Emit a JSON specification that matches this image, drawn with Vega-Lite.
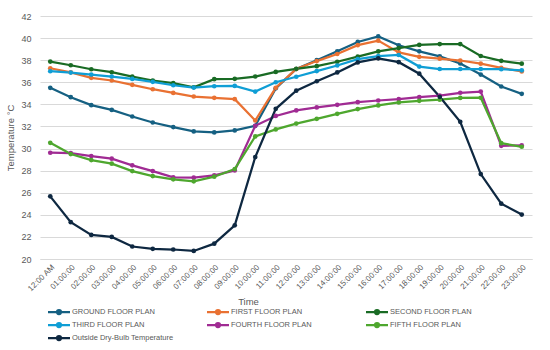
{
  "$schema": "https://vega.github.io/schema/vega-lite/v6.json",
  "width": 492,
  "height": 243,
  "autosize": {"type": "none"},
  "padding": {"left": 40, "top": 16, "right": 18, "bottom": 91},
  "background": "white",
  "config": {"view": {"stroke": null}, "font": "Liberation Sans"},
  "datasets": {
    "temps": [
      {"time": "12:00 AM", "series": "GROUND FLOOR PLAN", "temp": 35.5},
      {"time": "01:00:00", "series": "GROUND FLOOR PLAN", "temp": 34.65},
      {"time": "02:00:00", "series": "GROUND FLOOR PLAN", "temp": 33.93},
      {"time": "03:00:00", "series": "GROUND FLOOR PLAN", "temp": 33.5},
      {"time": "04:00:00", "series": "GROUND FLOOR PLAN", "temp": 32.9},
      {"time": "05:00:00", "series": "GROUND FLOOR PLAN", "temp": 32.36},
      {"time": "06:00:00", "series": "GROUND FLOOR PLAN", "temp": 31.94},
      {"time": "07:00:00", "series": "GROUND FLOOR PLAN", "temp": 31.55},
      {"time": "08:00:00", "series": "GROUND FLOOR PLAN", "temp": 31.46},
      {"time": "09:00:00", "series": "GROUND FLOOR PLAN", "temp": 31.64},
      {"time": "10:00:00", "series": "GROUND FLOOR PLAN", "temp": 32.06},
      {"time": "11:00:00", "series": "GROUND FLOOR PLAN", "temp": 35.45},
      {"time": "12:00:00", "series": "GROUND FLOOR PLAN", "temp": 37.2},
      {"time": "13:00:00", "series": "GROUND FLOOR PLAN", "temp": 38.0},
      {"time": "14:00:00", "series": "GROUND FLOOR PLAN", "temp": 38.8},
      {"time": "15:00:00", "series": "GROUND FLOOR PLAN", "temp": 39.65},
      {"time": "16:00:00", "series": "GROUND FLOOR PLAN", "temp": 40.15},
      {"time": "17:00:00", "series": "GROUND FLOOR PLAN", "temp": 39.35},
      {"time": "18:00:00", "series": "GROUND FLOOR PLAN", "temp": 38.8},
      {"time": "19:00:00", "series": "GROUND FLOOR PLAN", "temp": 38.35},
      {"time": "20:00:00", "series": "GROUND FLOOR PLAN", "temp": 37.7},
      {"time": "21:00:00", "series": "GROUND FLOOR PLAN", "temp": 36.7},
      {"time": "22:00:00", "series": "GROUND FLOOR PLAN", "temp": 35.62},
      {"time": "23:00:00", "series": "GROUND FLOOR PLAN", "temp": 34.95},

      {"time": "12:00 AM", "series": "FIRST FLOOR PLAN", "temp": 37.27},
      {"time": "01:00:00", "series": "FIRST FLOOR PLAN", "temp": 36.9},
      {"time": "02:00:00", "series": "FIRST FLOOR PLAN", "temp": 36.4},
      {"time": "03:00:00", "series": "FIRST FLOOR PLAN", "temp": 36.16},
      {"time": "04:00:00", "series": "FIRST FLOOR PLAN", "temp": 35.77},
      {"time": "05:00:00", "series": "FIRST FLOOR PLAN", "temp": 35.37},
      {"time": "06:00:00", "series": "FIRST FLOOR PLAN", "temp": 35.04},
      {"time": "07:00:00", "series": "FIRST FLOOR PLAN", "temp": 34.71},
      {"time": "08:00:00", "series": "FIRST FLOOR PLAN", "temp": 34.59},
      {"time": "09:00:00", "series": "FIRST FLOOR PLAN", "temp": 34.47},
      {"time": "10:00:00", "series": "FIRST FLOOR PLAN", "temp": 32.54},
      {"time": "11:00:00", "series": "FIRST FLOOR PLAN", "temp": 35.5},
      {"time": "12:00:00", "series": "FIRST FLOOR PLAN", "temp": 37.2},
      {"time": "13:00:00", "series": "FIRST FLOOR PLAN", "temp": 37.92},
      {"time": "14:00:00", "series": "FIRST FLOOR PLAN", "temp": 38.56},
      {"time": "15:00:00", "series": "FIRST FLOOR PLAN", "temp": 39.36},
      {"time": "16:00:00", "series": "FIRST FLOOR PLAN", "temp": 39.77},
      {"time": "17:00:00", "series": "FIRST FLOOR PLAN", "temp": 38.7},
      {"time": "18:00:00", "series": "FIRST FLOOR PLAN", "temp": 38.3},
      {"time": "19:00:00", "series": "FIRST FLOOR PLAN", "temp": 38.14},
      {"time": "20:00:00", "series": "FIRST FLOOR PLAN", "temp": 37.97},
      {"time": "21:00:00", "series": "FIRST FLOOR PLAN", "temp": 37.68},
      {"time": "22:00:00", "series": "FIRST FLOOR PLAN", "temp": 37.3},
      {"time": "23:00:00", "series": "FIRST FLOOR PLAN", "temp": 36.98},

      {"time": "12:00 AM", "series": "SECOND FLOOR PLAN", "temp": 37.87},
      {"time": "01:00:00", "series": "SECOND FLOOR PLAN", "temp": 37.54},
      {"time": "02:00:00", "series": "SECOND FLOOR PLAN", "temp": 37.18},
      {"time": "03:00:00", "series": "SECOND FLOOR PLAN", "temp": 36.91},
      {"time": "04:00:00", "series": "SECOND FLOOR PLAN", "temp": 36.52},
      {"time": "05:00:00", "series": "SECOND FLOOR PLAN", "temp": 36.16},
      {"time": "06:00:00", "series": "SECOND FLOOR PLAN", "temp": 35.92},
      {"time": "07:00:00", "series": "SECOND FLOOR PLAN", "temp": 35.55},
      {"time": "08:00:00", "series": "SECOND FLOOR PLAN", "temp": 36.28},
      {"time": "09:00:00", "series": "SECOND FLOOR PLAN", "temp": 36.31},
      {"time": "10:00:00", "series": "SECOND FLOOR PLAN", "temp": 36.52},
      {"time": "11:00:00", "series": "SECOND FLOOR PLAN", "temp": 36.94},
      {"time": "12:00:00", "series": "SECOND FLOOR PLAN", "temp": 37.22},
      {"time": "13:00:00", "series": "SECOND FLOOR PLAN", "temp": 37.46},
      {"time": "14:00:00", "series": "SECOND FLOOR PLAN", "temp": 37.86},
      {"time": "15:00:00", "series": "SECOND FLOOR PLAN", "temp": 38.33},
      {"time": "16:00:00", "series": "SECOND FLOOR PLAN", "temp": 38.79},
      {"time": "17:00:00", "series": "SECOND FLOOR PLAN", "temp": 39.1},
      {"time": "18:00:00", "series": "SECOND FLOOR PLAN", "temp": 39.38},
      {"time": "19:00:00", "series": "SECOND FLOOR PLAN", "temp": 39.46},
      {"time": "20:00:00", "series": "SECOND FLOOR PLAN", "temp": 39.46},
      {"time": "21:00:00", "series": "SECOND FLOOR PLAN", "temp": 38.38},
      {"time": "22:00:00", "series": "SECOND FLOOR PLAN", "temp": 37.94},
      {"time": "23:00:00", "series": "SECOND FLOOR PLAN", "temp": 37.68},

      {"time": "12:00 AM", "series": "THIRD FLOOR PLAN", "temp": 37.0},
      {"time": "01:00:00", "series": "THIRD FLOOR PLAN", "temp": 36.88},
      {"time": "02:00:00", "series": "THIRD FLOOR PLAN", "temp": 36.7},
      {"time": "03:00:00", "series": "THIRD FLOOR PLAN", "temp": 36.52},
      {"time": "04:00:00", "series": "THIRD FLOOR PLAN", "temp": 36.3},
      {"time": "05:00:00", "series": "THIRD FLOOR PLAN", "temp": 36.04},
      {"time": "06:00:00", "series": "THIRD FLOOR PLAN", "temp": 35.73},
      {"time": "07:00:00", "series": "THIRD FLOOR PLAN", "temp": 35.52},
      {"time": "08:00:00", "series": "THIRD FLOOR PLAN", "temp": 35.64},
      {"time": "09:00:00", "series": "THIRD FLOOR PLAN", "temp": 35.67},
      {"time": "10:00:00", "series": "THIRD FLOOR PLAN", "temp": 35.16},
      {"time": "11:00:00", "series": "THIRD FLOOR PLAN", "temp": 36.0},
      {"time": "12:00:00", "series": "THIRD FLOOR PLAN", "temp": 36.5},
      {"time": "13:00:00", "series": "THIRD FLOOR PLAN", "temp": 37.01},
      {"time": "14:00:00", "series": "THIRD FLOOR PLAN", "temp": 37.52},
      {"time": "15:00:00", "series": "THIRD FLOOR PLAN", "temp": 38.09},
      {"time": "16:00:00", "series": "THIRD FLOOR PLAN", "temp": 38.37},
      {"time": "17:00:00", "series": "THIRD FLOOR PLAN", "temp": 38.47},
      {"time": "18:00:00", "series": "THIRD FLOOR PLAN", "temp": 37.42},
      {"time": "19:00:00", "series": "THIRD FLOOR PLAN", "temp": 37.2},
      {"time": "20:00:00", "series": "THIRD FLOOR PLAN", "temp": 37.2},
      {"time": "21:00:00", "series": "THIRD FLOOR PLAN", "temp": 37.2},
      {"time": "22:00:00", "series": "THIRD FLOOR PLAN", "temp": 37.18},
      {"time": "23:00:00", "series": "THIRD FLOOR PLAN", "temp": 37.08},

      {"time": "12:00 AM", "series": "FOURTH FLOOR PLAN", "temp": 29.62},
      {"time": "01:00:00", "series": "FOURTH FLOOR PLAN", "temp": 29.59},
      {"time": "02:00:00", "series": "FOURTH FLOOR PLAN", "temp": 29.32},
      {"time": "03:00:00", "series": "FOURTH FLOOR PLAN", "temp": 29.08},
      {"time": "04:00:00", "series": "FOURTH FLOOR PLAN", "temp": 28.48},
      {"time": "05:00:00", "series": "FOURTH FLOOR PLAN", "temp": 27.96},
      {"time": "06:00:00", "series": "FOURTH FLOOR PLAN", "temp": 27.39},
      {"time": "07:00:00", "series": "FOURTH FLOOR PLAN", "temp": 27.36},
      {"time": "08:00:00", "series": "FOURTH FLOOR PLAN", "temp": 27.57},
      {"time": "09:00:00", "series": "FOURTH FLOOR PLAN", "temp": 28.02},
      {"time": "10:00:00", "series": "FOURTH FLOOR PLAN", "temp": 32.06},
      {"time": "11:00:00", "series": "FOURTH FLOOR PLAN", "temp": 32.95},
      {"time": "12:00:00", "series": "FOURTH FLOOR PLAN", "temp": 33.45},
      {"time": "13:00:00", "series": "FOURTH FLOOR PLAN", "temp": 33.72},
      {"time": "14:00:00", "series": "FOURTH FLOOR PLAN", "temp": 33.96},
      {"time": "15:00:00", "series": "FOURTH FLOOR PLAN", "temp": 34.2},
      {"time": "16:00:00", "series": "FOURTH FLOOR PLAN", "temp": 34.35},
      {"time": "17:00:00", "series": "FOURTH FLOOR PLAN", "temp": 34.47},
      {"time": "18:00:00", "series": "FOURTH FLOOR PLAN", "temp": 34.65},
      {"time": "19:00:00", "series": "FOURTH FLOOR PLAN", "temp": 34.79},
      {"time": "20:00:00", "series": "FOURTH FLOOR PLAN", "temp": 35.05},
      {"time": "21:00:00", "series": "FOURTH FLOOR PLAN", "temp": 35.16},
      {"time": "22:00:00", "series": "FOURTH FLOOR PLAN", "temp": 30.25},
      {"time": "23:00:00", "series": "FOURTH FLOOR PLAN", "temp": 30.28},

      {"time": "12:00 AM", "series": "FIFTH FLOOR PLAN", "temp": 30.52},
      {"time": "01:00:00", "series": "FIFTH FLOOR PLAN", "temp": 29.5},
      {"time": "02:00:00", "series": "FIFTH FLOOR PLAN", "temp": 28.96},
      {"time": "03:00:00", "series": "FIFTH FLOOR PLAN", "temp": 28.63},
      {"time": "04:00:00", "series": "FIFTH FLOOR PLAN", "temp": 27.96},
      {"time": "05:00:00", "series": "FIFTH FLOOR PLAN", "temp": 27.51},
      {"time": "06:00:00", "series": "FIFTH FLOOR PLAN", "temp": 27.21},
      {"time": "07:00:00", "series": "FIFTH FLOOR PLAN", "temp": 27.03},
      {"time": "08:00:00", "series": "FIFTH FLOOR PLAN", "temp": 27.45},
      {"time": "09:00:00", "series": "FIFTH FLOOR PLAN", "temp": 28.14},
      {"time": "10:00:00", "series": "FIFTH FLOOR PLAN", "temp": 31.1},
      {"time": "11:00:00", "series": "FIFTH FLOOR PLAN", "temp": 31.73},
      {"time": "12:00:00", "series": "FIFTH FLOOR PLAN", "temp": 32.26},
      {"time": "13:00:00", "series": "FIFTH FLOOR PLAN", "temp": 32.69},
      {"time": "14:00:00", "series": "FIFTH FLOOR PLAN", "temp": 33.14},
      {"time": "15:00:00", "series": "FIFTH FLOOR PLAN", "temp": 33.57},
      {"time": "16:00:00", "series": "FIFTH FLOOR PLAN", "temp": 33.9},
      {"time": "17:00:00", "series": "FIFTH FLOOR PLAN", "temp": 34.17},
      {"time": "18:00:00", "series": "FIFTH FLOOR PLAN", "temp": 34.32},
      {"time": "19:00:00", "series": "FIFTH FLOOR PLAN", "temp": 34.42},
      {"time": "20:00:00", "series": "FIFTH FLOOR PLAN", "temp": 34.58},
      {"time": "21:00:00", "series": "FIFTH FLOOR PLAN", "temp": 34.6},
      {"time": "22:00:00", "series": "FIFTH FLOOR PLAN", "temp": 30.49},
      {"time": "23:00:00", "series": "FIFTH FLOOR PLAN", "temp": 30.16},

      {"time": "12:00 AM", "series": "Outside Dry-Bulb Temperature", "temp": 25.67},
      {"time": "01:00:00", "series": "Outside Dry-Bulb Temperature", "temp": 23.33},
      {"time": "02:00:00", "series": "Outside Dry-Bulb Temperature", "temp": 22.18},
      {"time": "03:00:00", "series": "Outside Dry-Bulb Temperature", "temp": 22.0},
      {"time": "04:00:00", "series": "Outside Dry-Bulb Temperature", "temp": 21.13},
      {"time": "05:00:00", "series": "Outside Dry-Bulb Temperature", "temp": 20.92},
      {"time": "06:00:00", "series": "Outside Dry-Bulb Temperature", "temp": 20.86},
      {"time": "07:00:00", "series": "Outside Dry-Bulb Temperature", "temp": 20.73},
      {"time": "08:00:00", "series": "Outside Dry-Bulb Temperature", "temp": 21.39},
      {"time": "09:00:00", "series": "Outside Dry-Bulb Temperature", "temp": 23.05},
      {"time": "10:00:00", "series": "Outside Dry-Bulb Temperature", "temp": 29.23},
      {"time": "11:00:00", "series": "Outside Dry-Bulb Temperature", "temp": 33.6},
      {"time": "12:00:00", "series": "Outside Dry-Bulb Temperature", "temp": 35.24},
      {"time": "13:00:00", "series": "Outside Dry-Bulb Temperature", "temp": 36.09},
      {"time": "14:00:00", "series": "Outside Dry-Bulb Temperature", "temp": 36.89},
      {"time": "15:00:00", "series": "Outside Dry-Bulb Temperature", "temp": 37.8},
      {"time": "16:00:00", "series": "Outside Dry-Bulb Temperature", "temp": 38.17},
      {"time": "17:00:00", "series": "Outside Dry-Bulb Temperature", "temp": 37.82},
      {"time": "18:00:00", "series": "Outside Dry-Bulb Temperature", "temp": 36.78},
      {"time": "19:00:00", "series": "Outside Dry-Bulb Temperature", "temp": 34.68},
      {"time": "20:00:00", "series": "Outside Dry-Bulb Temperature", "temp": 32.42},
      {"time": "21:00:00", "series": "Outside Dry-Bulb Temperature", "temp": 27.69},
      {"time": "22:00:00", "series": "Outside Dry-Bulb Temperature", "temp": 25.01},
      {"time": "23:00:00", "series": "Outside Dry-Bulb Temperature", "temp": 24.02}
    ]
  },
  "data": {"name": "temps"},
  "mark": {"type": "line", "strokeWidth": 2.25, "point": {"filled": true, "size": 22}},
  "encoding": {
    "x": {
      "field": "time",
      "type": "ordinal",
      "sort": null,
      "scale": {"type": "point", "padding": 0.5},
      "axis": {
        "title": "Time",
        "labelAngle": -45,
        "labelFontSize": 8,
        "labelColor": "#595959",
        "labelPadding": 4,
        "ticks": false,
        "domain": true,
        "domainColor": "#d9d9d9",
        "grid": false,
        "titleFontSize": 9.5,
        "titleColor": "#595959",
        "titleFontWeight": "normal",
        "titleY": 37,
        "titleX": 208
      }
    },
    "y": {
      "field": "temp",
      "type": "quantitative",
      "scale": {"domain": [20, 42], "nice": false, "zero": false},
      "axis": {
        "title": "Temperature °C",
        "values": [20, 22, 24, 26, 28, 30, 32, 34, 36, 38, 40, 42],
        "labelFontSize": 9,
        "labelColor": "#595959",
        "labelPadding": 9,
        "ticks": false,
        "domain": false,
        "grid": true,
        "gridColor": "#d9d9d9",
        "gridWidth": 1,
        "titleFontSize": 9.5,
        "titleColor": "#595959",
        "titleFontWeight": "normal",
        "titlePadding": 5
      }
    },
    "color": {
      "field": "series",
      "type": "nominal",
      "scale": {
        "domain": ["GROUND FLOOR PLAN", "FIRST FLOOR PLAN", "SECOND FLOOR PLAN", "THIRD FLOOR PLAN", "FOURTH FLOOR PLAN", "FIFTH FLOOR PLAN", "Outside Dry-Bulb Temperature"],
        "range": ["#156082", "#E97132", "#196B24", "#0F9ED5", "#A02B93", "#4EA72E", "#0E2841"]
      },
      "legend": {
        "title": null,
        "orient": "none",
        "legendX": 13.5,
        "legendY": 290.5,
        "direction": "horizontal",
        "columns": 3,
        "gridAlign": "all",
        "columnPadding": 29,
        "rowPadding": 0,
        "padding": 0,
        "symbolType": "M-2.75,0L2.75,0M-0.5,0A0.5,0.5,0,1,1,0.5,0A0.5,0.5,0,1,1,-0.5,0Z",
        "symbolSize": 64,
        "symbolStrokeWidth": 2.25,
        "labelFontSize": 7.5,
        "labelColor": "#595959",
        "labelOffset": 7.5,
        "labelLimit": 200,
        "encode": {
          "symbols": {
            "update": {
              "fill": {"scale": "color", "field": "value"},
              "stroke": {"scale": "color", "field": "value"},
              "opacity": {"value": 1}
            }
          }
        }
      }
    }
  }
}
